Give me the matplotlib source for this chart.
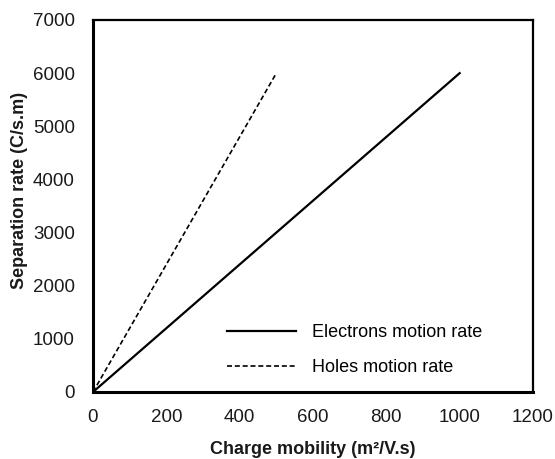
import matplotlib
matplotlib.use("Agg")
import matplotlib.pyplot as plt

plt.rcParams.update({
    'font.family': ['Liberation Sans', 'DejaVu Sans'],
    'font.size': 13,
})

# data
electron_mobility = [0, 200, 400, 600, 800, 1000]
electron_rate = [0, 1200, 2400, 3600, 4800, 6000]
hole_mobility = [0, 100, 200, 300, 400, 500]
hole_rate = [0, 1200, 2400, 3600, 4800, 6000]

x_ticks = [0, 200, 400, 600, 800, 1000, 1200]
y_ticks = [0, 1000, 2000, 3000, 4000, 5000, 6000, 7000]

fig = plt.figure(figsize=(5.55, 4.59), dpi=100)
# axes box: x 93..533 px, y 20..392 px
ax = fig.add_axes([93 / 555, (459 - 392) / 459, 440 / 555, 372 / 459])

ax.plot(electron_mobility, electron_rate, color='black', lw=1.6, label='Electrons motion rate')
ax.plot(hole_mobility, hole_rate, color='black', lw=1.2, ls=(0, (3.0, 1.7)), label='Holes motion rate')

ax.set_xlim(0, 1200)
ax.set_ylim(0, 7000)
ax.set_xticks(x_ticks)
ax.set_yticks(y_ticks)
ax.tick_params(axis='y', length=0, pad=13, labelsize=13.5, colors='#1a1a1a')
ax.tick_params(axis='x', length=0, pad=12, labelsize=13.5, colors='#1a1a1a')

for side in ['left', 'bottom']:
    ax.spines[side].set_linewidth(2.2)
for side in ['top', 'right']:
    ax.spines[side].set_linewidth(1.6)

ax.set_xlabel('Charge mobility (m²/V.s)', fontweight='bold', fontsize=13, labelpad=11, color='#1a1a1a')
ax.set_ylabel('Separation rate (C/s.m)', fontweight='bold', fontsize=13, color='#1a1a1a')
ax.yaxis.set_label_coords((28 - 93) / 440, (392 - 190) / 372)

ax.legend(loc='upper left', bbox_to_anchor=((227 - 93) / 440, (392 - 324) / 372),
          frameon=False, borderpad=0, borderaxespad=0,
          handlelength=3.8, handletextpad=0.9, labelspacing=1.02, fontsize=13)

fig.savefig('out.png', dpi=100)
